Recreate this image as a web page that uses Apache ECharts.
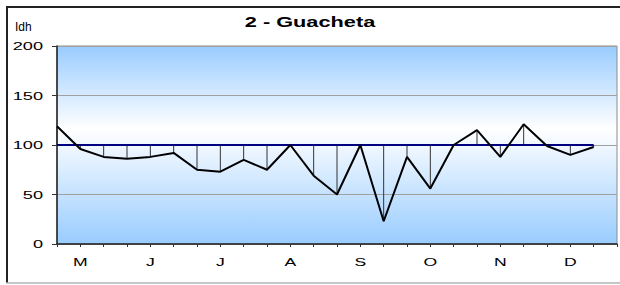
<!DOCTYPE html>
<html>
<head>
<meta charset="utf-8">
<script src="https://cdn.jsdelivr.net/npm/echarts@6/dist/echarts.min.js"></script>
<style>
html,body{margin:0;padding:0;background:#fff;}
#chart{width:620px;height:285px;}
</style>
</head>
<body>
<div id="chart"></div>
<script>
// ---- data ----
const titleText = '2 - Guacheta';
const yName = 'Idh';
const monthNames = ['May','Jun','Jul','Aug','Sep','Oct','Nov','Dec'];
const monthLabels = ['M','J','J','A','S','O','N','D'];
const idhValues = [119, 96, 88, 86, 88, 92, 75, 73, 85, 75, 100, 69, 50, 100, 23, 88, 56, 100, 115, 88, 121, 99, 90, 98];
const referenceValue = 100;
const yTicks = [0, 50, 100, 150, 200];

// dekad categories (3 per month) + closing boundary
const categories = [];
monthNames.forEach(m => { for (let d = 1; d <= 3; d++) categories.push(m + '-' + d); });
categories.push('end');

const refLine = idhValues.map(() => referenceValue);
const dropData = idhValues.map((v, i) => [i, v]);

const chart = echarts.init(document.getElementById('chart'), null, {renderer: 'svg'});
const font = 'Liberation Sans, Arial, sans-serif';

chart.setOption({
  animation: false,
  title: {
    text: titleText,
    left: 'center',
    top: 14,
    padding: 0,
    textStyle: {fontFamily: font, fontSize: 15, fontWeight: 'bold', color: '#000'}
  },
  grid: {
    left: 57, top: 46, width: 561, height: 198,
    show: true,
    borderColor: '#8c8c8c', borderWidth: 1,
    backgroundColor: {
      type: 'linear', x: 0, y: 0, x2: 0, y2: 1,
      colorStops: [
        {offset: 0, color: '#99ccff'},
        {offset: 0.42, color: '#ffffff'},
        {offset: 1, color: '#99ccff'}
      ]
    }
  },
  xAxis: {
    type: 'category',
    data: categories,
    boundaryGap: false,
    axisLine: {lineStyle: {color: '#222', width: 1.5}},
    axisTick: {interval: 0, length: 3, lineStyle: {color: '#333'}},
    axisLabel: {
      interval: 0, margin: 13,
      fontFamily: font, fontSize: 11, color: '#000',
      formatter: (val, idx) => (idx % 3 === 1 ? monthLabels[(idx - 1) / 3] : '')
    },
    splitLine: {show: false}
  },
  yAxis: {
    type: 'value',
    min: yTicks[0], max: yTicks[yTicks.length - 1], interval: 50,
    axisLine: {show: true, lineStyle: {color: '#222', width: 1.5}},
    axisTick: {show: true, length: 5, lineStyle: {color: '#333'}},
    axisLabel: {margin: 14, fontFamily: font, fontSize: 11, color: '#000'},
    splitLine: {lineStyle: {color: '#a0a0a0', width: 1}}
  },
  graphic: [
    {type: 'line', shape: {x1: 7, y1: 7, x2: 620, y2: 7}, style: {stroke: '#222', lineWidth: 2}, silent: true},
    {type: 'line', shape: {x1: 7, y1: 6, x2: 7, y2: 283}, style: {stroke: '#222', lineWidth: 2}, silent: true},
    {type: 'line', shape: {x1: 6, y1: 283, x2: 620, y2: 283}, style: {stroke: '#b4b4b4', lineWidth: 1.5}, silent: true},
    {type: 'text', left: 15, top: 21, style: {text: yName, fontFamily: font, fontSize: 12, fill: '#000'}, silent: true}
  ],
  series: [
    {
      type: 'custom',
      z: 1,
      silent: true,
      data: dropData,
      renderItem: (params, api) => {
        const p = api.coord([api.value(0), api.value(1)]);
        const b = api.coord([api.value(0), referenceValue]);
        return {type: 'line', shape: {x1: p[0], y1: p[1], x2: b[0], y2: b[1]}, style: {stroke: '#333', lineWidth: 1}};
      }
    },
    {
      type: 'line', z: 2, data: refLine, showSymbol: false, symbol: 'none', silent: true,
      lineStyle: {color: '#000080', width: 2}
    },
    {
      type: 'line', z: 3, data: idhValues, showSymbol: false, symbol: 'none', silent: true,
      lineStyle: {color: '#000', width: 2}
    }
  ]
});

// horizontally stretch the axis / title text like the reference
function stretchTexts() {
  const texts = document.querySelectorAll('#chart svg text');
  texts.forEach(t => {
    if (t.getAttribute('data-st')) return;
    const s = (t.textContent || '').trim();
    let k = 0;
    if (s === titleText) k = 1.45;
    else if (/^\d+$/.test(s)) k = 1.65;
    else if (monthLabels.includes(s)) k = 1.6;
    if (!k) return;
    const x = parseFloat(t.getAttribute('x') || '0') || 0;
    const base = t.getAttribute('transform') || '';
    t.setAttribute('transform', base + ' translate(' + x + ',0) scale(' + k + ',1) translate(' + (-x) + ',0)');
    t.setAttribute('data-st', '1');
  });
}
stretchTexts();
chart.on('finished', () => setTimeout(stretchTexts, 0));
setTimeout(stretchTexts, 50);
</script>
</body>
</html>
